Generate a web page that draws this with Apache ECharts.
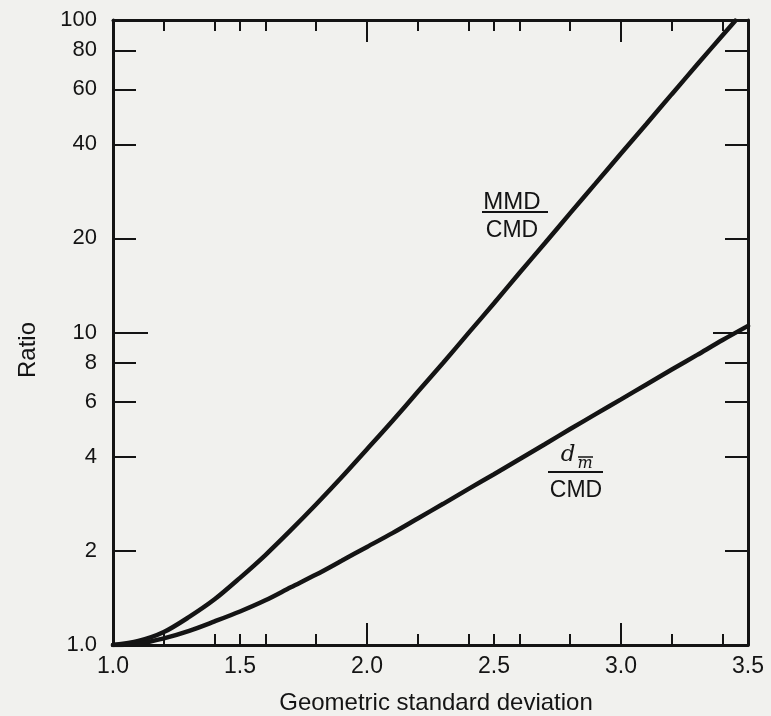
<!DOCTYPE html>
<html>
<head>
<meta charset="utf-8">
<title>Ratio vs geometric standard deviation</title>
<script src="https://cdn.jsdelivr.net/npm/echarts@6/dist/echarts.min.js"></script>
<style>
  html, body { margin: 0; padding: 0; background: #f1f1ee; }
  #chart { width: 771px; height: 716px; }
</style>
</head>
<body>
<div id="chart"></div>
<script>
// Geometric standard deviation (sigma_g) sample points
const gsdMmd = [1.0, 1.1, 1.2, 1.3, 1.4, 1.5, 1.6, 1.7, 1.8, 1.9, 2.0, 2.1, 2.2, 2.3, 2.4, 2.5, 2.6, 2.7, 2.8, 2.9, 3.0, 3.1, 3.2, 3.3, 3.4, 3.45];
// MMD / CMD ratio
const mmdRatio = [1.0, 1.03, 1.10, 1.23, 1.40, 1.64, 1.94, 2.33, 2.82, 3.44, 4.23, 5.21, 6.46, 8.0, 9.97, 12.4, 15.5, 19.3, 24.1, 30.0, 37.4, 46.5, 57.9, 72.0, 89.4, 99.5];

const gsdDm = [1.0, 1.1, 1.2, 1.3, 1.4, 1.5, 1.6, 1.7, 1.8, 1.9, 2.0, 2.1, 2.2, 2.3, 2.4, 2.5, 2.6, 2.7, 2.8, 2.9, 3.0, 3.1, 3.2, 3.3, 3.4, 3.5];
// d_m(bar) / CMD ratio
const dmRatio = [1.0, 1.01, 1.05, 1.11, 1.19, 1.28, 1.39, 1.53, 1.68, 1.86, 2.06, 2.28, 2.54, 2.83, 3.16, 3.52, 3.93, 4.39, 4.91, 5.48, 6.11, 6.82, 7.61, 8.48, 9.46, 10.5];

// Axis ticks and labels
const xLabelValues = [1.0, 1.5, 2.0, 2.5, 3.0, 3.5];
const xShortTicks = [1.2, 1.4, 1.5, 1.6, 1.8, 2.2, 2.4, 2.5, 2.6, 2.8, 3.2, 3.4];
const xLongTicks = [2.0, 3.0];
const yLabelValues = [1, 2, 4, 6, 8, 10, 20, 40, 60, 80, 100];
const yShortTicks = [2, 4, 6, 8, 20, 40, 60, 80];
const yLongTicks = [10];

const INK = '#141414';
const FONT = '"Liberation Sans", Arial, Helvetica, sans-serif';

function xAxisDef(position, ticks, len, withLabels, withLine) {
  return {
    type: 'value', min: 1.0, max: 3.5, position: position,
    axisLine: { show: withLine, onZero: false, lineStyle: { color: INK, width: 3 } },
    axisTick: { show: true, inside: true, length: len, customValues: ticks,
                lineStyle: { color: INK, width: 2 } },
    axisLabel: withLabels ? {
      show: true, customValues: xLabelValues, margin: 10,
      color: INK, fontSize: 23, fontFamily: FONT,
      formatter: v => Number(v).toFixed(1)
    } : { show: false },
    splitLine: { show: false }
  };
}

function yAxisDef(position, ticks, len, withLabels, withLine) {
  return {
    type: 'log', logBase: 10, min: 1, max: 100, position: position,
    axisLine: { show: withLine, onZero: false, lineStyle: { color: INK, width: 3 } },
    axisTick: { show: true, inside: true, length: len, customValues: ticks,
                lineStyle: { color: INK, width: 2 } },
    axisLabel: withLabels ? {
      show: true, customValues: yLabelValues, margin: 16,
      color: INK, fontSize: 22, fontFamily: FONT,
      formatter: v => (Number(v) === 1 ? '1.0' : String(Math.round(v)))
    } : { show: false },
    splitLine: { show: false }
  };
}

const chart = echarts.init(document.getElementById('chart'), null, { renderer: 'canvas' });

chart.setOption({
  backgroundColor: '#f1f1ee',
  animation: false,
  grid: { left: 113, right: 23, top: 20, bottom: 71 },
  xAxis: [
    xAxisDef('bottom', xShortTicks, 11, true, true),
    xAxisDef('bottom', xLongTicks, 22, false, false),
    xAxisDef('top', xShortTicks, 11, false, true),
    xAxisDef('top', xLongTicks, 22, false, false)
  ],
  yAxis: [
    yAxisDef('left', yShortTicks, 23, true, true),
    yAxisDef('left', yLongTicks, 35, false, false),
    yAxisDef('right', yShortTicks, 23, false, true),
    yAxisDef('right', yLongTicks, 35, false, false)
  ],
  series: [
    {
      name: 'MMD/CMD', type: 'line', xAxisIndex: 0, yAxisIndex: 0,
      data: gsdMmd.map((g, i) => [g, mmdRatio[i]]),
      showSymbol: false, smooth: 0.3, clip: true,
      lineStyle: { color: INK, width: 4.5, cap: 'round' }
    },
    {
      name: 'dm/CMD', type: 'line', xAxisIndex: 0, yAxisIndex: 0,
      data: gsdDm.map((g, i) => [g, dmRatio[i]]),
      showSymbol: false, smooth: 0.3, clip: true,
      lineStyle: { color: INK, width: 4.5, cap: 'round' }
    }
  ],
  graphic: [
    // axis titles
    { type: 'text', x: 28, y: 350, rotation: Math.PI / 2,
      style: { text: 'Ratio', font: '24px ' + FONT, fill: INK, align: 'center', verticalAlign: 'middle' } },
    { type: 'text', x: 436, y: 703,
      style: { text: 'Geometric standard deviation', font: '24px ' + FONT, fill: INK, align: 'center', verticalAlign: 'middle' } },
    // MMD / CMD label
    { type: 'text', x: 512, y: 202,
      style: { text: 'MMD', font: '24px ' + FONT, fill: INK, align: 'center', verticalAlign: 'middle' } },
    { type: 'line', shape: { x1: 482, y1: 212, x2: 548, y2: 212 }, style: { stroke: INK, lineWidth: 2 } },
    { type: 'text', x: 512, y: 231,
      style: { text: 'CMD', font: '23px ' + FONT, fill: INK, align: 'center', verticalAlign: 'middle' } },
    // d_m(bar) / CMD label
    { type: 'text', x: 568, y: 455,
      style: { text: 'd', font: 'italic 23px "DejaVu Serif", "Liberation Serif", serif', fill: INK, align: 'center', verticalAlign: 'middle' } },
    { type: 'text', x: 585, y: 464,
      style: { text: 'm', font: 'italic 16px "DejaVu Serif", "Liberation Serif", serif', fill: INK, align: 'center', verticalAlign: 'middle' } },
    { type: 'line', shape: { x1: 578, y1: 457, x2: 593, y2: 457 }, style: { stroke: INK, lineWidth: 1.5 } },
    { type: 'line', shape: { x1: 548, y1: 472, x2: 603, y2: 472 }, style: { stroke: INK, lineWidth: 2 } },
    { type: 'text', x: 576, y: 491,
      style: { text: 'CMD', font: '23px ' + FONT, fill: INK, align: 'center', verticalAlign: 'middle' } }
  ]
});
</script>
</body>
</html>
